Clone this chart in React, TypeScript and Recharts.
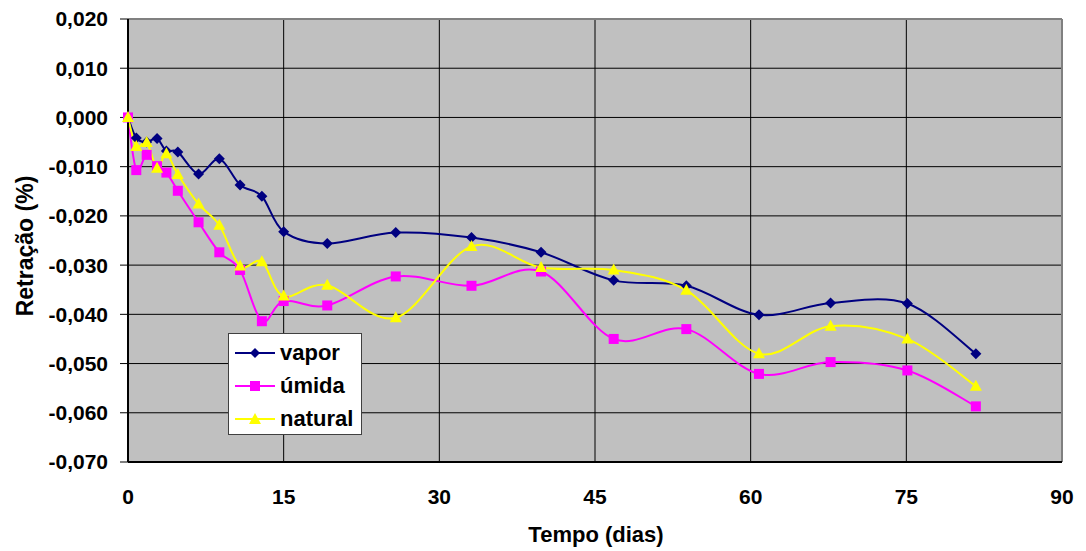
import { LineChart, Line, XAxis, YAxis, CartesianGrid, ReferenceLine } from "recharts";

const DAYS = [0, 0.8, 1.8, 2.8, 3.7, 4.8, 6.8, 8.8, 10.8, 12.9, 15, 19.2, 25.8, 33.1, 39.8, 46.8, 53.8, 60.8, 67.7, 75.1, 81.7];
const VAPOR = [0, -0.0042, -0.005, -0.0043, -0.0068, -0.007, -0.0115, -0.0084, -0.0137, -0.016, -0.0232, -0.0256, -0.0234, -0.0244, -0.0274, -0.0331, -0.0342, -0.0401, -0.0377, -0.0378, -0.048];
const UMIDA = [0, -0.0107, -0.0076, -0.0099, -0.0112, -0.0149, -0.0213, -0.0274, -0.031, -0.0414, -0.0373, -0.0382, -0.0323, -0.0342, -0.0313, -0.045, -0.043, -0.0521, -0.0497, -0.0514, -0.0587];
const NATURAL = [0, -0.0059, -0.0051, -0.0103, -0.0074, -0.0116, -0.0176, -0.0219, -0.0302, -0.0293, -0.0363, -0.0341, -0.0407, -0.0262, -0.0305, -0.031, -0.0351, -0.048, -0.0424, -0.045, -0.0546];
const X_TICKS = [0, 15, 30, 45, 60, 75, 90];
const Y_TICKS = [0.02, 0.01, 0, -0.01, -0.02, -0.03, -0.04, -0.05, -0.06, -0.07];

const data = DAYS.map((d, i) => ({ dia: d, vapor: VAPOR[i], umida: UMIDA[i], natural: NATURAL[i] }));

const FONT = "'Liberation Sans', Arial, sans-serif";
const NAVY = "#000080";
const MAGENTA = "#FF00FF";
const YELLOW = "#FFFF00";

// smooth curve like Excel's (catmull-rom through the points)
function smoothCurve(context: any) {
  let pts: number[][] = [];
  return {
    areaStart() {},
    areaEnd() {},
    lineStart() { pts = []; },
    point(x: number, y: number) { pts.push([+x, +y]); },
    lineEnd() {
      if (!pts.length) return;
      context.moveTo(pts[0][0], pts[0][1]);
      for (let i = 0; i < pts.length - 1; i++) {
        const p0 = pts[i - 1] || pts[i];
        const p1 = pts[i];
        const p2 = pts[i + 1];
        const p3 = pts[i + 2] || p2;
        context.bezierCurveTo(
          p1[0] + (p2[0] - p0[0]) / 6, p1[1] + (p2[1] - p0[1]) / 6,
          p2[0] - (p3[0] - p1[0]) / 6, p2[1] - (p3[1] - p1[1]) / 6,
          p2[0], p2[1]
        );
      }
    },
  };
}

const Diamond = (p: any) => (
  <path key={p.index} d={`M${p.cx},${p.cy - 5.5}L${p.cx + 5.5},${p.cy}L${p.cx},${p.cy + 5.5}L${p.cx - 5.5},${p.cy}Z`} fill={NAVY} />
);
const Square = (p: any) => <rect key={p.index} x={p.cx - 5} y={p.cy - 5} width={10} height={10} fill={MAGENTA} />;
const Triangle = (p: any) => (
  <path key={p.index} d={`M${p.cx},${p.cy - 6.5}L${p.cx + 6},${p.cy + 4.5}L${p.cx - 6},${p.cy + 4.5}Z`} fill={YELLOW} />
);

const fmt = (v: number) => (Math.abs(v) < 1e-9 ? "0,000" : v.toFixed(3).replace(".", ","));

const LEGEND = [
  { name: "vapor", color: NAVY, shape: "d" },
  { name: "úmida", color: MAGENTA, shape: "s" },
  { name: "natural", color: YELLOW, shape: "t" },
];

function LegendIcon({ color, shape }: { color: string; shape: string }) {
  return (
    <svg width={40} height={14} style={{ marginRight: 5 }}>
      <line x1={0} y1={7} x2={40} y2={7} stroke={color} strokeWidth={2} />
      {shape === "d" && <path d="M20,2L25,7L20,12L15,7Z" fill={color} />}
      {shape === "s" && <rect x={15} y={2} width={10} height={10} fill={color} />}
      {shape === "t" && <path d="M20,1L26,12L14,12Z" fill={color} />}
    </svg>
  );
}

export default function App() {
  return (
    <div style={{ position: "relative", width: 1086, height: 551, background: "#fff", fontFamily: FONT }}>
      <style>{"body{margin:0}"}</style>
      <LineChart width={1086} height={551} data={data} margin={{ top: 19, right: 24, bottom: 29, left: 0 }}>
        <CartesianGrid stroke="#000" strokeWidth={1} fill="#C0C0C0" fillOpacity={1} />
        <ReferenceLine y={0.02} stroke="#808080" strokeWidth={2} />
        <ReferenceLine x={90} stroke="#808080" strokeWidth={2} />
        <XAxis
          dataKey="dia"
          type="number"
          domain={[0, 90]}
          ticks={X_TICKS}
          height={60}
          axisLine={{ stroke: "#000", strokeWidth: 2 }}
          tickLine={false}
          tickSize={0}
          tickMargin={27}
          tick={{ fill: "#000", fontSize: 21, fontWeight: 700, fontFamily: FONT }}
          label={() => (
            <text x={596} y={534} textAnchor="middle" dominantBaseline="central" fontSize={22} fontWeight={700} fontFamily={FONT} fill="#000">
              Tempo (dias)
            </text>
          )}
        />
        <YAxis
          type="number"
          width={128}
          domain={[-0.07, 0.02]}
          ticks={Y_TICKS}
          interval={0}
          tickFormatter={fmt}
          axisLine={{ stroke: "#000", strokeWidth: 2 }}
          tickLine={{ stroke: "#000" }}
          tickSize={8}
          tickMargin={12}
          tick={{ fill: "#000", fontSize: 21, fontWeight: 700, fontFamily: FONT }}
          label={() => (
            <text x={25} y={246} transform="rotate(-90 25 246)" textAnchor="middle" dominantBaseline="central" fontSize={23} fontWeight={700} fontFamily={FONT} fill="#000">
              Retração (%)
            </text>
          )}
        />
        <Line type={smoothCurve as any} dataKey="vapor" stroke={NAVY} strokeWidth={2} dot={Diamond} activeDot={false} isAnimationActive={false} />
        <Line type={smoothCurve as any} dataKey="umida" stroke={MAGENTA} strokeWidth={2} dot={Square} activeDot={false} isAnimationActive={false} />
        <Line type={smoothCurve as any} dataKey="natural" stroke={YELLOW} strokeWidth={2} dot={Triangle} activeDot={false} isAnimationActive={false} />
      </LineChart>
      <div
        style={{
          position: "absolute",
          left: 228,
          top: 333,
          width: 134,
          height: 102,
          background: "#fff",
          border: "1px solid #404040",
          boxSizing: "border-box",
          padding: "2px 0 0 6px",
        }}
      >
        {LEGEND.map((l) => (
          <div key={l.name} style={{ display: "flex", alignItems: "center", height: 33, fontSize: 22, fontWeight: 700, color: "#000" }}>
            <LegendIcon color={l.color} shape={l.shape} />
            {l.name}
          </div>
        ))}
      </div>
    </div>
  );
}
